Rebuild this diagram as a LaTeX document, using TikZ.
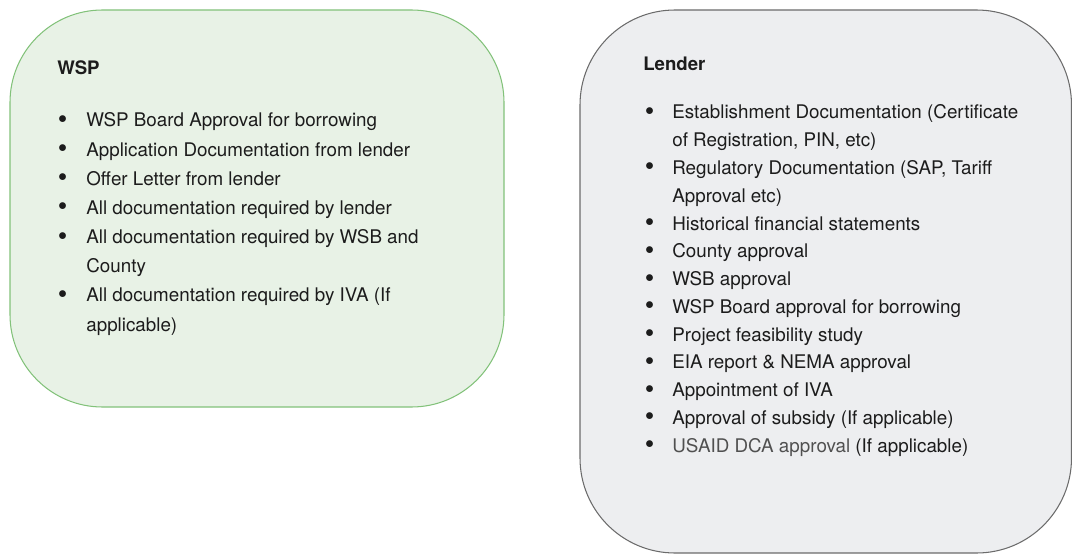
\documentclass[tikz,border=0pt]{standalone}
\usepackage{fontspec}
\setmainfont{TeX Gyre Heros}
\usepackage{array}
\definecolor{wspfill}{HTML}{E8F2E6}
\definecolor{wspline}{HTML}{82C27A}
\definecolor{lenderfill}{HTML}{EDEEF0}
\definecolor{lenderline}{HTML}{6B6B6B}
\definecolor{inkdark}{HTML}{1C1C1C}
\definecolor{inkgray}{HTML}{505050}
\newcommand{\bul}{\raisebox{-0.15ex}{\scalebox{1.45}{\textbullet}}}
\tikzset{
  wspbox/.style={draw=wspline, fill=wspfill, line width=0.6pt, rounded corners=1.85cm},
  lenderbox/.style={draw=lenderline, fill=lenderfill, line width=0.6pt, rounded corners=1.9cm},
  headtext/.style={anchor=base west, inner sep=0pt, text=inkdark, font=\fontsize{10.6}{12}\selectfont\bfseries},
  listtext/.style={anchor=base west, inner sep=0pt, text=inkdark}
}
\begin{document}
\begin{tikzpicture}[x=0.02cm, y=-0.02cm]
\useasboundingbox (0,0) rectangle (1072,554);
\draw[wspbox] (10,10) rectangle (504,407);
\draw[lenderbox] (580,10) rectangle (1071.5,553);
\node[headtext] (wsphead) at (57,75) {WSP};
\node[headtext] (lenderhead) at (643,71) {Lender};
\node[listtext, font=\fontsize{10.7}{16.6}\selectfont] (wsplist) at (57.5,127) {%
\begin{tabular}[t]{@{}p{0.57cm}@{}p{8cm}@{}}
\bul & WSP Board Approval for borrowing\\
\bul & Application Documentation from lender\\
\bul & Offer Letter from lender\\
\bul & All documentation required by lender\\
\bul & All documentation required by WSB and\newline County\\
\bul & All documentation required by IVA (If\newline applicable)
\end{tabular}};
\node[listtext, font=\fontsize{10.7}{15.8}\selectfont] (lenderlist) at (644.5,119) {%
\begin{tabular}[t]{@{}p{0.55cm}@{}p{8cm}@{}}
\bul & Establishment Documentation (Certificate\newline of Registration, PIN, etc)\\
\bul & Regulatory Documentation (SAP, Tariff\newline Approval etc)\\
\bul & Historical financial statements\\
\bul & County approval\\
\bul & WSB approval\\
\bul & WSP Board approval for borrowing\\
\bul & Project feasibility study\\
\bul & EIA report \& NEMA approval\\
\bul & Appointment of IVA\\
\bul & Approval of subsidy (If applicable)\\
\bul & \textcolor{inkgray}{USAID DCA approval} (If applicable)
\end{tabular}};
\end{tikzpicture}
\end{document}
